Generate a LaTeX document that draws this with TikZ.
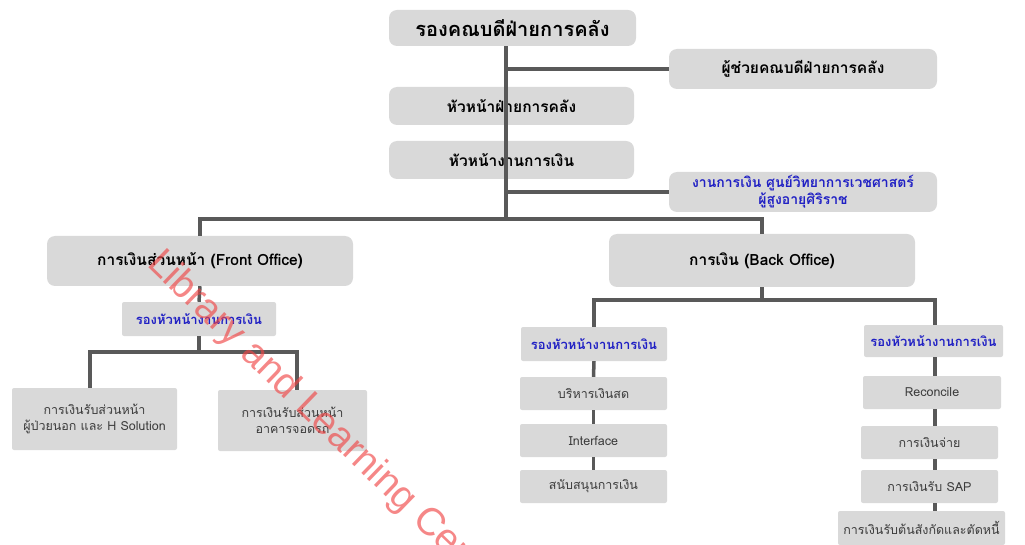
\documentclass[tikz,border=0pt]{standalone}
\usepackage{fontspec}
\setmainfont[Script=Thai]{Loma}
\newfontfamily\wmfont{Liberation Sans}
\definecolor{boxgray}{RGB}{217,217,217}
\definecolor{linegray}{RGB}{89,89,89}
\definecolor{depblue}{RGB}{32,32,196}
\definecolor{txtgray}{RGB}{60,60,60}
\definecolor{wmred}{RGB}{240,70,70}
\begin{document}
\begin{tikzpicture}[x=1pt, y=-1pt,
  bx/.style={fill=boxgray, rounded corners=8pt, align=center, inner sep=0pt, font=\bfseries\fontsize{15.5}{18}\selectfont},
  sbx/.style={fill=boxgray, rounded corners=2pt, align=center, inner sep=0pt, text=txtgray, font=\fontsize{12.5}{16.5}\selectfont},
  dep/.style={sbx, text=depblue, font=\bfseries\fontsize{13}{15}\selectfont},
  ln/.style={draw=linegray, line width=3.5pt}]
\useasboundingbox (0,0) rectangle (1025,545);
\clip (0,0) rectangle (1025,545);
% top of the tree
\node[bx, minimum width=247pt, minimum height=36pt, font=\bfseries\fontsize{20}{24}\selectfont] (dean) at (512.5,28) {รองคณบดีฝ่ายการคลัง};
\node[bx, minimum width=268pt, minimum height=40pt] (asst) at (803,69) {ผู้ช่วยคณบดีฝ่ายการคลัง};
\node[bx, minimum width=245pt, minimum height=38pt] (headdiv) at (511.5,106) {หัวหน้าฝ่ายการคลัง};
\node[bx, minimum width=245pt, minimum height=38pt] (headfin) at (511.5,160) {หัวหน้างานการเงิน};
\node[bx, minimum width=268pt, minimum height=40pt, text=depblue, font=\bfseries\fontsize{14}{17}\selectfont] (geri) at (803,192) {งานการเงิน ศูนย์วิทยาการเวชศาสตร์\\ผู้สูงอายุศิริราช};
% two offices
\node[bx, minimum width=306pt, minimum height=50pt] (front) at (200,261) {การเงินส่วนหน้า (Front Office)};
\node[bx, minimum width=306pt, minimum height=53pt] (back) at (762,260.5) {การเงิน (Back Office)};
% front office units
\node[dep, minimum width=154pt, minimum height=34pt] (fdep) at (199,319) {รองหัวหน้างานการเงิน};
\node[sbx, minimum width=165pt, minimum height=62pt] (fopd) at (94.5,419) {การเงินรับส่วนหน้า\\ผู้ป่วยนอก และ H Solution};
\node[sbx, minimum width=149pt, minimum height=61pt] (fpark) at (292.5,420.5) {การเงินรับส่วนหน้า\\อาคารจอดรถ};
% back office units
\node[dep, minimum width=146pt, minimum height=34pt] (bdepL) at (594,344) {รองหัวหน้างานการเงิน};
\node[sbx, minimum width=147pt, minimum height=33pt] (cash) at (593.5,393.5) {บริหารเงินสด};
\node[sbx, minimum width=147pt, minimum height=33pt] (intf) at (593.5,440.5) {Interface};
\node[sbx, minimum width=147pt, minimum height=33pt] (supp) at (593.5,486.5) {สนับสนุนการเงิน};
\node[dep, minimum width=139pt, minimum height=32pt] (bdepR) at (933.5,341) {รองหัวหน้างานการเงิน};
\node[sbx, minimum width=138pt, minimum height=33pt] (recon) at (932,392.5) {Reconcile};
\node[sbx, minimum width=137pt, minimum height=33pt] (pay) at (929.5,442.5) {การเงินจ่าย};
\node[sbx, minimum width=137pt, minimum height=33pt] (sap) at (929.5,486.5) {การเงินรับ SAP};
\node[sbx, minimum width=167pt, minimum height=34pt] (debt) at (921.5,528) {การเงินรับต้นสังกัดและตัดหนี้};
% connectors
\coordinate (j0) at (506,219);
\coordinate (j1) at (199,352);
\coordinate (j2) at (762,300);
\draw[ln] (dean.south -| j0) -- (j0);
\draw[ln] (asst.west) -- (asst.west -| j0);
\draw[ln] (geri.west) -- (geri.west -| j0);
\draw[ln] (front.north) -- (front.north |- j0) -- (back.north |- j0) -- (back.north);
\draw[ln] (front.south) -- (fdep.north);
\draw[ln] (fdep.south) -- (j1);
\draw[ln] ([xshift=-4.5pt]fopd.north) |- (j1) -| ([xshift=4.5pt]fpark.north);
\draw[ln] (back.south) -- (j2);
\draw[ln] (bdepL.north) |- (j2) -| ([xshift=1.5pt]bdepR.north);
\foreach \a/\b in {bdepL/cash,cash/intf,intf/supp}
  \draw[ln] (\a.south) -- (\b.north);
\foreach \a/\b in {bdepR/recon,recon/pay,pay/sap,sap/debt}
  \draw[ln] ([xshift=1.5pt]\a.south -| bdepR) -- ([xshift=1.5pt]\b.north -| bdepR);
% watermark
\node[rotate=-44, anchor=base west, text=wmred, opacity=0.65, inner sep=0pt, font=\wmfont\fontsize{39}{44}\selectfont] (wm) at (146,265) {Library and Learning Center};
\end{tikzpicture}
\end{document}
